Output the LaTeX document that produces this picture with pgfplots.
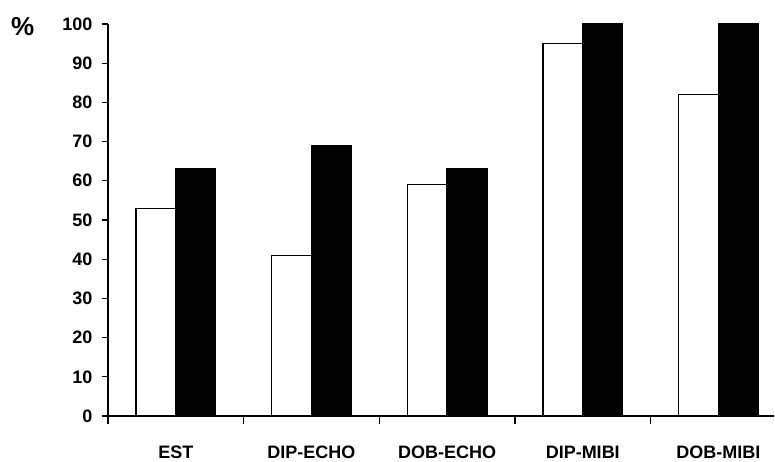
\documentclass[border=0pt]{standalone}
\usepackage{pgfplots}
\pgfplotsset{compat=1.18}
\usepackage{fontspec}
\setmainfont{Liberation Sans}

\begin{document}
\begin{tikzpicture}
\path[use as bounding box] (-108pt,-45pt) rectangle (667pt,416pt);
\begin{axis}[
    at={(0,0)}, anchor=south west,
    scale only axis,
    width=666pt,
    height=392pt,
    xmin=-0.5, xmax=4.41,
    ymin=0, ymax=100,
    axis x line=bottom,
    axis y line=left,
    axis line style={-, line width=1.4pt},
    tick align=outside,
    major tick length=6pt,
    minor tick length=8pt,
    ytick={0,10,...,100},
    xtick={0,1,2,3,4},
    xticklabels={EST,DIP-ECHO,DOB-ECHO,DIP-MIBI,DOB-MIBI},
    minor xtick={-0.5,0.5,1.5,2.5,3.5},
    major x tick style={draw=none},
    tick style={line width=1.2pt, black},
    /pgf/number format/assume math mode=true,
    ticklabel style={font=\fontsize{18}{21}\selectfont\bfseries},
    xticklabel style={inner sep=1pt, text height=13pt, text depth=0pt, yshift=-22pt},
    yticklabel style={xshift=-6pt},
    clip=false,
]
\addplot[ybar, bar width=0.294, bar shift=-0.147, fill=white, draw=black, line width=1.3pt]
    coordinates {(0,53)(1,41)(2,59)(3,95)(4,82)};
\addplot[ybar, bar width=0.294, bar shift=0.147, fill=black, draw=black, line width=1.3pt]
    coordinates {(0,63)(1,69)(2,63)(3,100)(4,100)};
\node[font=\fontsize{26}{29}\selectfont\bfseries, anchor=north west, inner sep=0pt]
    at (rel axis cs:0,1) [xshift=-97pt, yshift=7pt] {\%};
\end{axis}
\end{tikzpicture}
\end{document}
